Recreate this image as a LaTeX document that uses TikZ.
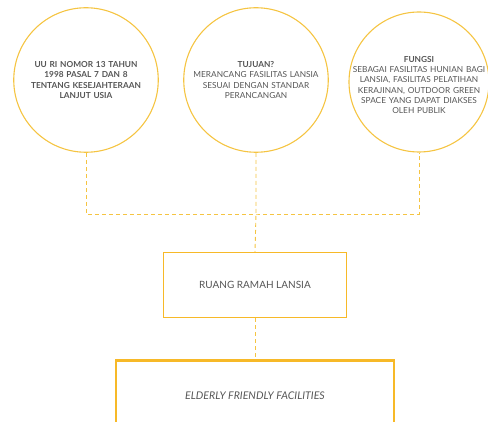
\documentclass[tikz,border=0pt]{standalone}
\usepackage{fontspec}
\setmainfont{Lato}
\usepackage{tikz}
\usetikzlibrary{positioning}

\definecolor{kuning}{RGB}{245,196,66}
\definecolor{oranye}{RGB}{247,185,40}
\definecolor{teks}{RGB}{85,85,85}

\begin{document}
\begin{tikzpicture}
        [ x = 1pt, y = 1pt
        , isi/.style =
          { inner sep = 0pt, text width = 140pt, align = center,
            font = \fontsize{8.3}{10.2}\selectfont, text = teks }
        , lingkaran/.style =
          { isi, circle, draw = kuning, line width = 1.1pt, minimum size = 144pt }
        , kotak/.style =
          { draw = oranye, line width = 1.3pt, align = center,
            font = \fontsize{10}{12}\selectfont, text = teks }
        , utama/.style =
          { kotak, line width = 2.4pt, font = \fontsize{10.6}{12}\selectfont }
        , link/.style =
          { draw = kuning, line width = .9pt, dash pattern = on 4pt off 3pt }
        ]
        \useasboundingbox (0,0) rectangle (488,421);
        \clip (0,0) rectangle (488,421);

        \node [lingkaran] (hukum) at (86,341)
          {\bfseries UU RI NOMOR 13 TAHUN\\ 1998 PASAL 7 DAN 8\\ TENTANG KESEJAHTERAAN\\ LANJUT USIA};
        \node [lingkaran] (tujuan) at (256,341)
          {{\bfseries TUJUAN?}\\ MERANCANG FASILITAS LANSIA\\ SESUAI DENGAN STANDAR\\ PERANCANGAN};
        \node [lingkaran, text width = {}, minimum size = 140pt] (fungsi) at (419,339) {};
        \node [isi, text width = 160pt] (fungsiteks) at ([yshift=-3pt]fungsi.center)
          {{\bfseries FUNGSI}\\ SEBAGAI FASILITAS HUNIAN BAGI\\ LANSIA, FASILITAS PELATIHAN\\ KERAJINAN, OUTDOOR GREEN\\ SPACE YANG DAPAT DIAKSES\\ OLEH PUBLIK};

        \coordinate (simpul) at (256,207);
        \node [kotak, minimum width = 183pt, minimum height = 65pt] (ruang) at (255,136)
          {RUANG RAMAH LANSIA};
        \node [utama, minimum width = 278pt, minimum height = 70pt] (efc) [below=41pt of ruang]
          {\itshape ELDERLY FRIENDLY FACILITIES};

        % garis penghubung
        \draw [link] (hukum.south) |- (simpul) -| (fungsi.south);
        \draw [link] (tujuan.south) -- (simpul) -- (ruang.north);
        \draw [link] (ruang) -- (efc);
\end{tikzpicture}
\end{document}
